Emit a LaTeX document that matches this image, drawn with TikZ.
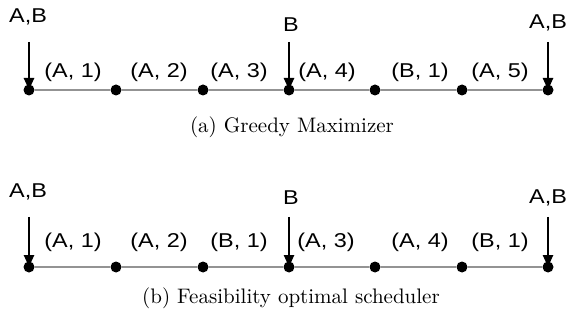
\documentclass[tikz,border=0pt]{standalone}
\usepackage{fontspec}
\usepackage{tikz}
\usetikzlibrary{arrows.meta,positioning}
\newfontfamily\lblfont[FakeStretch=1.17]{Liberation Sans}
\newfontfamily\capfont{lmroman10-regular}[Extension=.otf]

\begin{document}
\begin{tikzpicture}[
    x=1pt, y=-1pt,
    dot/.style={circle, fill=black, inner sep=0pt, minimum size=11pt},
    axis/.style={gray!85, line width=1.6pt},
    lbl/.style={inner sep=0pt, font=\lblfont\fontsize{20}{23}\selectfont},
    arr/.style={-{Triangle[width=10pt,length=12pt]}, line width=2.4pt, black},
    captxt/.style={inner sep=0pt, font=\capfont\fontsize{21}{24}\selectfont}
]
\useasboundingbox (0,0) rectangle (567,320);

% time points
\foreach \x [count=\i] in {29,116,203,289,375,462,548}{
  \node[dot] (t\i) at (\x,90) {};
  \node[dot] (b\i) at (\x,267) {};
}
\foreach \i [evaluate=\i as \j using int(\i+1)] in {1,...,6}{
  \draw[axis] (t\i) -- (t\j);
  \draw[axis] (b\i) -- (b\j);
}

% (a) greedy
\node[lbl] (ra1) at (28,17) {A,B};
\node[lbl] (ra2) at (291,25) {B};
\node[lbl] (ra3) at (548,23) {A,B};
\coordinate (sa1) at (29,42); \coordinate (sa2) at (289,42); \coordinate (sa3) at (548,42);
\draw[arr] (sa1) -- (t1.center);
\draw[arr] (sa2) -- (t4.center);
\draw[arr] (sa3) -- (t7.center);

\node[lbl] (ja1) at (73,72) {(A, 1)};
\node[lbl] (ja2) at (159,72) {(A, 2)};
\node[lbl] (ja3) at (239,72) {(A, 3)};
\node[lbl] (ja4) at (327,72) {(A, 4)};
\node[lbl] (ja5) at (420,72) {(B, 1)};
\node[lbl] (ja6) at (500,72) {(A, 5)};
\node[captxt] (capa) at (292,127) {(a) Greedy Maximizer};

% (b) feasibility optimal
\node[lbl] (rb1) at (28,192) {A,B};
\node[lbl] (rb2) at (291,198) {B};
\node[lbl] (rb3) at (548,198) {A,B};
\coordinate (sb1) at (29,217); \coordinate (sb2) at (289,217); \coordinate (sb3) at (548,217);
\draw[arr] (sb1) -- (b1.center);
\draw[arr] (sb2) -- (b4.center);
\draw[arr] (sb3) -- (b7.center);

\node[lbl] (jb1) at (73,242) {(A, 1)};
\node[lbl] (jb2) at (159,242) {(A, 2)};
\node[lbl] (jb3) at (239,242) {(B, 1)};
\node[lbl] (jb4) at (326,242) {(A, 3)};
\node[lbl] (jb5) at (420,242) {(A, 4)};
\node[lbl] (jb6) at (500,242) {(B, 1)};
\node[captxt] (capb) at (291,298) {(b) Feasibility optimal scheduler};
\end{tikzpicture}
\end{document}
